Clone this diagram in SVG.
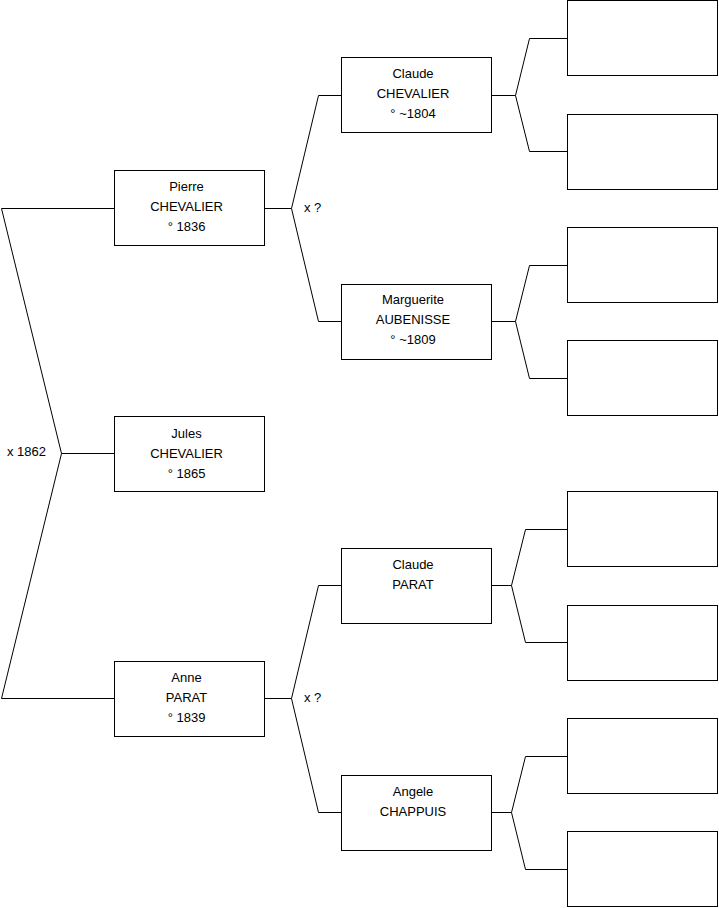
<svg xmlns="http://www.w3.org/2000/svg" width="719" height="908" viewBox="0 0 719 908">
<style>
.box{fill:#fff;stroke:#000;stroke-width:1}
.c{fill:none;stroke:#000;stroke-width:1}
text{font-family:"Liberation Sans",Arial,sans-serif;font-size:13px;fill:#000}
.m{text-anchor:middle}
</style>
<rect width="719" height="908" fill="#fff"/>
<g id="connectors">
<polyline class="c" points="114,208.5 1.5,208.5 61.5,453.5 1.5,698.5 114,698.5"/>
<polyline class="c" points="61.5,453.5 114,453.5"/>
<polyline class="c" points="265,208.5 291.5,208.5"/>
<polyline class="c" points="341,95.5 318.5,95.5 291.5,208.5 318.5,321.5 341,321.5"/>
<polyline class="c" points="265,698.5 291.5,698.5"/>
<polyline class="c" points="341,585.5 318.5,585.5 291.5,698.5 318.5,812.5 341,812.5"/>
<polyline class="c" points="492,95.5 515.5,95.5"/>
<polyline class="c" points="567,38.5 529.5,38.5 515.5,95.5 529.5,151.5 567,151.5"/>
<polyline class="c" points="492,321.5 515.5,321.5"/>
<polyline class="c" points="567,265.5 529.5,265.5 515.5,321.5 529.5,378.5 567,378.5"/>
<polyline class="c" points="492,585.5 511.5,585.5"/>
<polyline class="c" points="567,529.5 525.5,529.5 511.5,585.5 525.5,642.5 567,642.5"/>
<polyline class="c" points="492,812.5 511.5,812.5"/>
<polyline class="c" points="567,756.5 525.5,756.5 511.5,812.5 525.5,869.5 567,869.5"/>
<text x="7" y="456">x 1862</text>
<text x="304" y="212">x ?</text>
<text x="304" y="702">x ?</text>
</g>
<g id="pierre"><rect class="box" x="114.5" y="170.5" width="150" height="75"/>
<text class="m" x="186.5" y="191">Pierre</text><text class="m" x="186.5" y="211">CHEVALIER</text><text class="m" x="186.5" y="231">° 1836</text></g>
<g id="jules"><rect class="box" x="114.5" y="416.5" width="150" height="75"/>
<text class="m" x="186.5" y="438">Jules</text><text class="m" x="186.5" y="458">CHEVALIER</text><text class="m" x="186.5" y="478">° 1865</text></g>
<g id="anne"><rect class="box" x="114.5" y="661.5" width="150" height="75"/>
<text class="m" x="186.5" y="682">Anne</text><text class="m" x="186.5" y="702">PARAT</text><text class="m" x="186.5" y="722">° 1839</text></g>
<g id="claude-chevalier"><rect class="box" x="341.5" y="57.5" width="150" height="75"/>
<text class="m" x="413" y="78">Claude</text><text class="m" x="413" y="98">CHEVALIER</text><text class="m" x="413" y="118">° ~1804</text></g>
<g id="marguerite"><rect class="box" x="341.5" y="284.5" width="150" height="75"/>
<text class="m" x="413" y="304">Marguerite</text><text class="m" x="413" y="324">AUBENISSE</text><text class="m" x="413" y="344">° ~1809</text></g>
<g id="claude-parat"><rect class="box" x="341.5" y="548.5" width="150" height="75"/>
<text class="m" x="413" y="569">Claude</text><text class="m" x="413" y="589">PARAT</text></g>
<g id="angele"><rect class="box" x="341.5" y="775.5" width="150" height="75"/>
<text class="m" x="413" y="796">Angele</text><text class="m" x="413" y="816">CHAPPUIS</text></g>
<g id="gg1"><rect class="box" x="567.5" y="0.5" width="150" height="75"/></g>
<g id="gg2"><rect class="box" x="567.5" y="114.5" width="150" height="75"/></g>
<g id="gg3"><rect class="box" x="567.5" y="227.5" width="150" height="75"/></g>
<g id="gg4"><rect class="box" x="567.5" y="340.5" width="150" height="75"/></g>
<g id="gg5"><rect class="box" x="567.5" y="491.5" width="150" height="75"/></g>
<g id="gg6"><rect class="box" x="567.5" y="605.5" width="150" height="75"/></g>
<g id="gg7"><rect class="box" x="567.5" y="718.5" width="150" height="75"/></g>
<g id="gg8"><rect class="box" x="567.5" y="831.5" width="150" height="75"/></g>
</svg>
